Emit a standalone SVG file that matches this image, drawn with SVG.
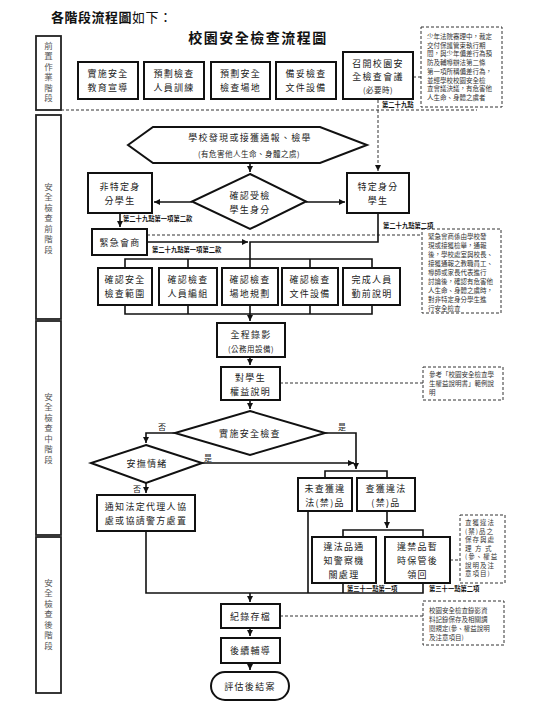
<svg xmlns="http://www.w3.org/2000/svg" width="550" height="701" viewBox="0 0 550 701">
<defs>
<style>
.box{fill:#fff;stroke:#111;stroke-width:2}
.stage{fill:#fff;stroke:#222;stroke-width:1.8}
.note{fill:#fff;stroke:#333;stroke-width:1;stroke-dasharray:3 2}
.ln{fill:none;stroke:#111;stroke-width:1.6}
.dl{fill:none;stroke:#333;stroke-width:1;stroke-dasharray:3 2}
text{font-family:"Noto Sans CJK TC","Noto Sans CJK SC",sans-serif;fill:#222;dominant-baseline:central}
.t{font-size:9px;letter-spacing:1.3px;text-anchor:middle}
.s{font-size:7.5px;letter-spacing:0.5px;text-anchor:middle}
.n{font-size:6.5px;text-anchor:start;fill:#333}
.lab{font-size:6.3px;font-weight:bold;text-anchor:start;fill:#111}
.yn{font-size:8px;text-anchor:middle}
.st{font-size:8.5px;letter-spacing:2px;text-anchor:middle;fill:#555;writing-mode:vertical-rl}
</style>
<marker id="ah" markerUnits="userSpaceOnUse" markerWidth="7" markerHeight="7" refX="6" refY="3" orient="auto">
<path d="M0,0 L6,3 L0,6 z" fill="#111"/>
</marker>
</defs>
<rect width="550" height="701" fill="#fff"/>

<g id="header">
<text x="51" y="16" style="font-size:13px;font-weight:bold;letter-spacing:0.5px;fill:#111">各階段流程圖<tspan style="font-weight:normal">如下：</tspan></text>
<text x="258" y="37" style="font-size:14px;font-weight:bold;letter-spacing:1.5px;text-anchor:middle;fill:#111">校園安全檢查流程圖</text>
</g>

<g id="stages">
<g id="stage1"><rect class="stage" x="36" y="36" width="25" height="74"/><text class="st" x="48.5" y="73">前置作業階段</text></g>
<g id="stage2"><rect class="stage" x="36" y="115" width="25" height="204"/><text class="st" x="48.5" y="219">安全檢查前階段</text></g>
<g id="stage3"><rect class="stage" x="36" y="321" width="25" height="214"/><text class="st" x="48.5" y="429">安全檢查中階段</text></g>
<g id="stage4"><rect class="stage" x="36" y="537" width="25" height="156"/><text class="st" x="48.5" y="615">安全檢查後階段</text></g>
</g>

<g id="connectors">
<path class="dl" d="M61,110 H477"/>
<path class="dl" d="M413,77 H421"/>
<path class="dl" d="M378,100 V171" marker-end="url(#ah)"/>
<path class="ln" d="M250,163 V172" marker-end="url(#ah)"/>
<path class="ln" d="M192,202 H154" marker-end="url(#ah)"/>
<path class="ln" d="M306,202 H345" marker-end="url(#ah)"/>
<path class="ln" d="M120,213 V227" marker-end="url(#ah)"/>
<path class="dl" d="M147,235 H422"/>
<path class="ln" d="M147,242 H248" marker-end="url(#ah)"/>
<path class="ln" d="M378,213 V242 H250 V259"/>
<path class="ln" d="M125,268 V259 H372 V268 M188,259 V268 M250,259 V268 M310,259 V268"/>
<path class="ln" d="M125,305 V314 H372 V305 M188,305 V314 M250,305 V314 M310,305 V314"/>
<path class="ln" d="M250,314 V321" marker-end="url(#ah)"/>
<path class="ln" d="M250,357 V365" marker-end="url(#ah)"/>
<path class="dl" d="M280,383 H423"/>
<path class="ln" d="M250,400 V409" marker-end="url(#ah)"/>
<path class="ln" d="M175,433 H146 V443" marker-end="url(#ah)"/>
<path class="ln" d="M325,433 H356 V469" marker-end="url(#ah)"/>
<path class="ln" d="M202,463 H354" marker-end="url(#ah)"/>
<path class="ln" d="M325,478 V471 H387 V478"/>
<path class="ln" d="M146,483 V493" marker-end="url(#ah)"/>
<path class="ln" d="M387,511 V528" marker-end="url(#ah)"/>
<path class="ln" d="M343,537 V530 H423 V537"/>
<path class="dl" d="M450,560 H460"/>
<path class="ln" d="M146,531 V593 H423 V583 M308,511 V593 M343,583 V593"/>
<path class="ln" d="M250,593 V602" marker-end="url(#ah)"/>
<path class="dl" d="M280,616 H423"/>
<path class="ln" d="M250,628 V636" marker-end="url(#ah)"/>
<path class="ln" d="M250,663 V670" marker-end="url(#ah)"/>
<text class="lab" x="382" y="104">第二十九點</text>
<text class="lab" x="123" y="218">第二十九點第一項第二款</text>
<text class="lab" x="383" y="225">第二十九點第二項</text>
<text class="lab" x="152" y="249">第二十九點第一項第二款</text>
<text class="yn" x="162" y="426">否</text>
<text class="yn" x="342" y="426">是</text>
<text class="yn" x="208" y="457">是</text>
<text class="yn" x="137" y="488">否</text>
<text class="lab" x="347" y="588">第三十一點第一項</text>
<text class="lab" x="429" y="588">第三十一點第二項</text>
</g>

<g id="n-edu"><rect class="box" x="78" y="62" width="60" height="37"/><text class="t" x="108" y="73">實施安全</text><text class="t" x="108" y="87">教育宣導</text></g>
<g id="n-train"><rect class="box" x="144" y="62" width="60" height="37"/><text class="t" x="174" y="73">預劃檢查</text><text class="t" x="174" y="87">人員訓練</text></g>
<g id="n-site"><rect class="box" x="211" y="62" width="59" height="37"/><text class="t" x="240.5" y="73">預劃安全</text><text class="t" x="240.5" y="87">檢查場地</text></g>
<g id="n-docs"><rect class="box" x="276" y="62" width="60" height="37"/><text class="t" x="306" y="73">備妥檢查</text><text class="t" x="306" y="87">文件設備</text></g>
<g id="n-meet"><rect class="box" x="343" y="52" width="70" height="47"/><text class="t" x="378" y="63">召開校園安</text><text class="t" x="378" y="76.5">全檢查會議</text><text class="s" x="378" y="89">(必要時)</text></g>
<g id="note1"><rect class="note" x="421" y="27" width="81" height="80"/>
<text class="n"><tspan x="427" y="36">少年法院審理中，裁定</tspan><tspan x="427" y="44.7">交付保護管束執行期</tspan><tspan x="427" y="53.4">間，與少年偏差行為預</tspan><tspan x="427" y="62.1">防及輔導辦法第二條</tspan><tspan x="427" y="70.8">第一項所稱偏差行為，</tspan><tspan x="427" y="79.5">並經學校校園安全檢</tspan><tspan x="427" y="88.2">查會議決議，有危害他</tspan><tspan x="427" y="96.9">人生命、身體之虞者</tspan></text></g>

<g id="n-report"><polygon class="box" points="128,145 153,127 320,127 367,145 320,163 153,163"/><text class="t" x="250" y="137.5">學校發現或接獲通報、檢舉</text><text class="s" x="249" y="153">(有危害他人生命、身體之虞)</text></g>
<g id="n-identity"><polygon class="box" points="250,174 306,201.5 250,229 192,201.5"/><text class="t" x="250" y="195">確認受檢</text><text class="t" x="250" y="209">學生身分</text></g>
<g id="n-nonspecial"><rect class="box" x="88" y="173" width="64" height="40"/><text class="t" x="120" y="186.5">非特定身</text><text class="t" x="120" y="200.5">分學生</text></g>
<g id="n-special"><rect class="box" x="347" y="173" width="62" height="40"/><text class="t" x="378" y="186.5">特定身分</text><text class="t" x="378" y="200.5">學生</text></g>
<g id="n-consult"><rect class="box" x="92" y="229" width="55" height="26"/><text class="t" x="120" y="242.5">緊急會商</text></g>
<g id="note2"><rect class="note" x="422" y="229" width="79" height="84"/>
<text class="n"><tspan x="428" y="236">緊急會商係由學校發</tspan><tspan x="428" y="245">現或接獲檢舉，通報</tspan><tspan x="428" y="254">後，學校處室與校長、</tspan><tspan x="428" y="263">接獲通報之教職員工、</tspan><tspan x="428" y="272">導師或家長代表進行</tspan><tspan x="428" y="281">討論後，確認有危害他</tspan><tspan x="428" y="290">人生命、身體之虞時，</tspan><tspan x="428" y="299">對非特定身分學生進</tspan><tspan x="428" y="308">行安全檢查</tspan></text></g>

<g id="n-scope"><rect class="box" x="98" y="268" width="54" height="37"/><text class="t" x="125" y="279.5">確認安全</text><text class="t" x="125" y="293.5">檢查範圍</text></g>
<g id="n-team"><rect class="box" x="159" y="268" width="58" height="37"/><text class="t" x="188" y="279.5">確認檢查</text><text class="t" x="188" y="293.5">人員編組</text></g>
<g id="n-plan"><rect class="box" x="222" y="268" width="56" height="37"/><text class="t" x="250" y="279.5">確認檢查</text><text class="t" x="250" y="293.5">場地規劃</text></g>
<g id="n-equip"><rect class="box" x="282" y="268" width="56" height="37"/><text class="t" x="310" y="279.5">確認檢查</text><text class="t" x="310" y="293.5">文件設備</text></g>
<g id="n-brief"><rect class="box" x="343" y="268" width="57" height="37"/><text class="t" x="372" y="279.5">完成人員</text><text class="t" x="372" y="293.5">勤前說明</text></g>

<g id="n-record"><rect class="box" x="217" y="323" width="68" height="34"/><text class="t" x="251" y="334">全程錄影</text><text class="s" x="251" y="348">(公務用設備)</text></g>
<g id="n-rights"><rect class="box" x="221" y="367" width="59" height="33"/><text class="t" x="250.5" y="377">對學生</text><text class="t" x="250.5" y="391">權益說明</text></g>
<g id="note3"><rect class="note" x="423" y="367" width="80" height="33"/>
<text class="n"><tspan x="429" y="374">參考「校園安全檢查學</tspan><tspan x="429" y="383">生權益說明書」範例說</tspan><tspan x="429" y="392">明</tspan></text></g>

<g id="n-inspect"><polygon class="box" points="250,411 325,433 250,455 175,433"/><text class="t" x="250" y="433">實施安全檢查</text></g>
<g id="n-calm"><polygon class="box" points="146,445 202,463 146,483 91,463"/><text class="t" x="147" y="463">安撫情緒</text></g>
<g id="n-notify"><rect class="box" x="97" y="495" width="98" height="36"/><text class="t" x="146" y="506">通知法定代理人協</text><text class="t" x="146" y="520">處或協請警方處置</text></g>
<g id="n-notfound"><rect class="box" x="298" y="478" width="54" height="33"/><text class="t" x="325" y="488">未查獲違</text><text class="t" x="325" y="502">法(禁)品</text></g>
<g id="n-found"><rect class="box" x="357" y="478" width="58" height="33"/><text class="t" x="386" y="488">查獲違法</text><text class="t" x="386" y="502">(禁)品</text></g>
<g id="n-police"><rect class="box" x="312" y="537" width="64" height="46"/><text class="t" x="344" y="546">違法品通</text><text class="t" x="344" y="560">知警察機</text><text class="t" x="344" y="574">關處理</text></g>
<g id="n-keep"><rect class="box" x="385" y="537" width="65" height="46"/><text class="t" x="417.5" y="546">違禁品暫</text><text class="t" x="417.5" y="560">時保管後</text><text class="t" x="417.5" y="574">領回</text></g>
<g id="note4"><rect class="note" x="460" y="515" width="45" height="68"/>
<text class="n" style="letter-spacing:1px"><tspan x="465" y="522">查獲違法</tspan><tspan x="465" y="530.5">(禁)品之</tspan><tspan x="465" y="539">保存與處</tspan><tspan x="465" y="547.5">理 方 式</tspan><tspan x="465" y="556">(參、權益</tspan><tspan x="465" y="564.5">說明及注</tspan><tspan x="465" y="573">意項目)</tspan></text></g>

<g id="n-archive"><rect class="box" x="221" y="604" width="59" height="24"/><text class="t" x="250.5" y="616">紀錄存檔</text></g>
<g id="note5"><rect class="note" x="423" y="601" width="81" height="44"/>
<text class="n"><tspan x="429" y="610">校園安全檢查錄影資</tspan><tspan x="429" y="619">料記錄保存及相關調</tspan><tspan x="429" y="628">閱規定(參、權益說明</tspan><tspan x="429" y="637">及注意項目)</tspan></text></g>
<g id="n-counsel"><rect class="box" x="221" y="638" width="59" height="25"/><text class="t" x="250.5" y="650.5">後續輔導</text></g>
<g id="n-close"><rect class="box" x="211" y="672" width="78" height="28" rx="14"/><text class="t" x="250" y="686">評估後結案</text></g>
</svg>
